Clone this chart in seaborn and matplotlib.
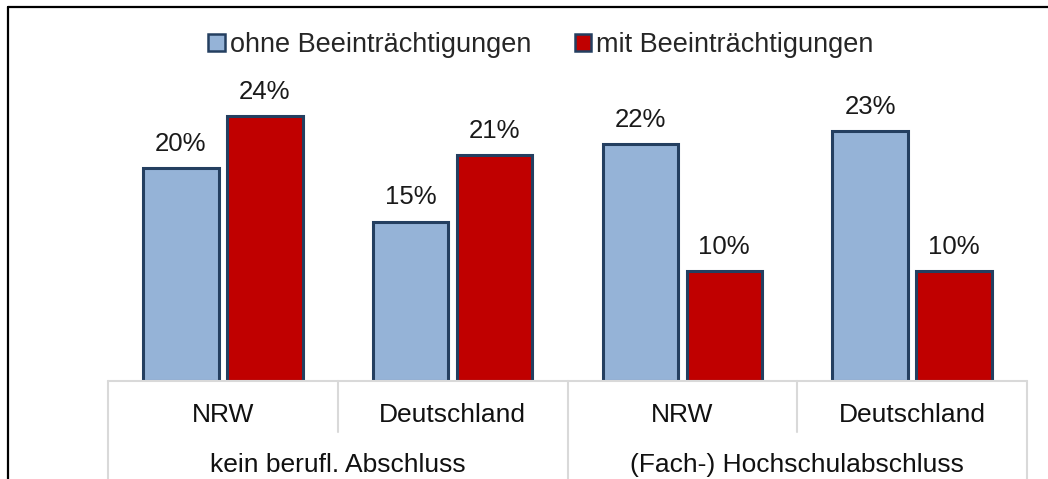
import pandas as pd
import numpy as np
import matplotlib
matplotlib.use("Agg")
import matplotlib.pyplot as plt
import seaborn as sns
from matplotlib.lines import Line2D
from matplotlib.patches import Patch
import matplotlib.transforms as mtransforms

# 데이터
regions = ["NRW", "Deutschland", "NRW", "Deutschland"]
groups = ["kein berufl. Abschluss", "(Fach-) Hochschulabschluss"]
series = ["ohne Beeinträchtigungen", "mit Beeinträchtigungen"]
ohne = [19.6, 14.7, 21.8, 23.0]
mit = [24.4, 20.8, 10.1, 10.1]

keys = ["k_NRW", "k_DE", "h_NRW", "h_DE"]
df = pd.DataFrame({
    "key": keys * 2,
    "wert": ohne + mit,
    "serie": [series[0]] * 4 + [series[1]] * 4,
})

W, H = 1048, 479
sns.set_theme(style="white")
plt.rcParams["font.family"] = ["Liberation Sans", "DejaVu Sans"]

fig = plt.figure(figsize=(W / 100, H / 100), dpi=100)
ax = fig.add_axes([108 / W, (H - 381) / H, (1027 - 108) / W, (381 - 55.5) / H])

farben = {series[0]: "#95B3D7", series[1]: "#C00000"}
sns.barplot(data=df, x="key", y="wert", hue="serie", order=keys,
            palette=farben, saturation=1, width=0.73, gap=0.1,
            edgecolor="#243F60", linewidth=2.2, ax=ax, legend=False)

ax.set_xlim(-0.5, 3.5)
ax.set_ylim(0, 30)
ax.axis("off")

for cont in ax.containers:
    ax.bar_label(cont, labels=["{:.0f}%".format(v) for v in cont.datavalues],
                 padding=9, fontsize=18.5, color="#1a1a1a")

# 카테고리 표 (x축)
grau = "#D9D9D9"
trans = mtransforms.blended_transform_factory(ax.transData, fig.transFigure)
def fy(y):
    return 1 - y / H

ax.plot([-0.5, 3.5], [fy(381), fy(381)], color=grau, lw=1.5,
        transform=trans, clip_on=False)
for xv, ende in [(-0.5, H), (0.5, 432), (1.5, H), (2.5, 432), (3.5, H)]:
    ax.plot([xv, xv], [fy(381), fy(ende)], color=grau, lw=1.5,
            transform=trans, clip_on=False)

for i, r in enumerate(regions):
    ax.text(i, fy(415), r, ha="center", va="center", fontsize=19,
            color="#111111", transform=trans)
for j, g in enumerate(groups):
    ax.text(2 * j + 0.5, fy(465), g, ha="center", va="center", fontsize=19,
            color="#111111", transform=trans)

# 범례
handles = [Patch(facecolor=farben[s], edgecolor="#243F60", linewidth=1.8) for s in series]
fig.legend(handles, series, loc="center", bbox_to_anchor=(541 / W, fy(45)),
           ncol=2, frameon=False, fontsize=19.5, handlelength=0.6, handleheight=0.6,
           handletextpad=0.2, columnspacing=1.6)

# 테두리
fig.add_artist(Line2D([8 / W, 1], [fy(7), fy(7)], color="black", lw=1.6,
                      transform=fig.transFigure))
fig.add_artist(Line2D([8 / W, 8 / W], [fy(7), 0], color="black", lw=1.6,
                      transform=fig.transFigure))

fig.savefig("out.png", dpi=100)
